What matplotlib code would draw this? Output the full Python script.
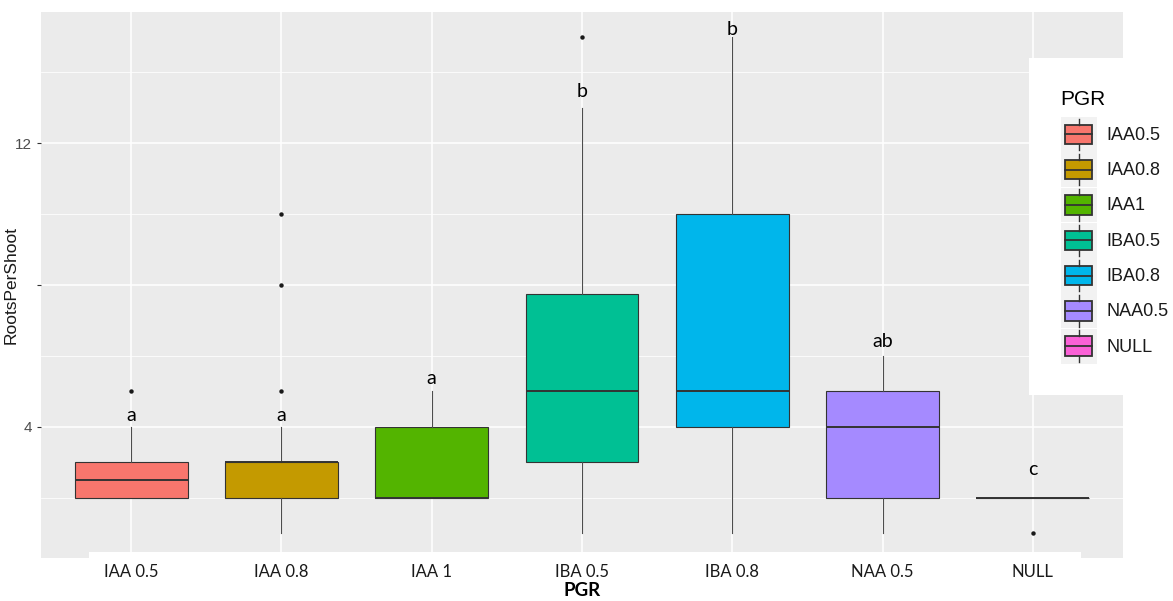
import matplotlib
matplotlib.use("Agg")
from matplotlib import pyplot as plt
from matplotlib.legend_handler import HandlerBase
from matplotlib.patches import Rectangle, Patch
from matplotlib.lines import Line2D

# box statistics
groups = ["IAA 0.5", "IAA 0.8", "IAA 1", "IBA 0.5", "IBA 0.8", "NAA 0.5", "NULL"]
legend_names = ["IAA0.5", "IAA0.8", "IAA1", "IBA0.5", "IBA0.8", "NAA0.5", "NULL"]
q1 = [2, 2, 2, 3, 4, 2, 2]
med = [2.5, 3, 2, 5, 5, 4, 2]
q3 = [3, 3, 4, 7.75, 10, 5, 2]
whislo = [2, 1, 2, 1, 1, 1, 2]
whishi = [4, 4, 5, 13, 15, 6, 2]
fliers = [[5], [5, 8, 10], [], [15], [], [], [1]]
letters = ["a", "a", "a", "b", "b", "ab", "c"]
letter_y = [4.15, 4.15, 5.2, 13.3, 15.05, 6.25, 2.65]

colors = ["#F8766D", "#C49A00", "#53B400", "#00C094", "#00B6EB", "#A58AFF", "#FB61D7"]


class BoxKey(HandlerBase):
    # draws a tiny ggplot style boxplot as legend key
    def create_artists(self, legend, orig_handle, xdescent, ydescent,
                       width, height, fontsize, trans):
        x0, y0 = -xdescent, -ydescent
        bg = Rectangle((x0, y0), width, height, facecolor="#F2F2F2",
                       edgecolor="none", transform=trans)
        box = Rectangle((x0 + 0.12 * width, y0 + 0.22 * height),
                        0.76 * width, 0.56 * height,
                        facecolor=orig_handle.get_facecolor(),
                        edgecolor="#333333", linewidth=1.3, transform=trans)
        xm = x0 + width / 2
        mid = Line2D([x0 + 0.12 * width, x0 + 0.88 * width],
                     [y0 + height / 2] * 2, color="#333333", lw=1.3,
                     transform=trans)
        top = Line2D([xm, xm], [y0 + 0.78 * height, y0 + 0.95 * height],
                     color="#333333", lw=1.0, transform=trans)
        bot = Line2D([xm, xm], [y0 + 0.05 * height, y0 + 0.22 * height],
                     color="#333333", lw=1.0, transform=trans)
        return [bg, box, mid, top, bot]


fig = plt.figure(figsize=(11.73, 6.01), dpi=100)
W, H = 1173, 601
ax = fig.add_axes([41 / W, 1 - 558 / H, (1123 - 41) / W, (558 - 12) / H])
ax.set_facecolor("#EBEBEB")
ax.set_axisbelow(True)

stats = []
for i in range(len(groups)):
    stats.append(dict(med=med[i], q1=q1[i], q3=q3[i], whislo=whislo[i],
                      whishi=whishi[i], fliers=fliers[i], label=groups[i]))

pos = list(range(1, len(groups) + 1))
bp = ax.bxp(stats, positions=pos, widths=0.75, patch_artist=True,
            showcaps=False, manage_ticks=False,
            boxprops=dict(edgecolor="#333333", linewidth=0.8),
            medianprops=dict(color="#333333", linewidth=1.4),
            whiskerprops=dict(color="#4D4D4D", linewidth=0.8),
            flierprops=dict(marker="o", markersize=3.2,
                            markerfacecolor="#1A1A1A",
                            markeredgecolor="none"))
for patch, c in zip(bp["boxes"], colors):
    patch.set_facecolor(c)

for x, t, y in zip(pos, letters, letter_y):
    ax.text(x, y, t, ha="center", va="baseline", fontsize=14,
            family="Lato", color="black")

ax.set_xlim(0.4, 7.6)
ax.set_ylim(0.3, 15.7)
ax.set_xticks(pos)
ax.set_xticklabels(groups, family="Lato", fontsize=12, color="#1A1A1A")
ax.set_yticks([4, 8, 12])
ax.set_yticklabels(["4", "", "12"], fontsize=11, color="#4D4D4D",
                   family="Liberation Sans")
ax.set_yticks([2, 6, 10, 14], minor=True)
ax.tick_params(axis="x", length=0, pad=4)
ax.tick_params(axis="y", length=3, color="#333333", pad=3.5)
ax.tick_params(axis="y", which="minor", length=0)
ax.grid(True, which="major", color="white", linewidth=1.1)
ax.grid(True, which="minor", axis="y", color="white", linewidth=0.55)
for s in ax.spines.values():
    s.set_visible(False)

ax.set_xlabel("PGR", family="Lato", fontweight="bold", fontsize=13.5,
              labelpad=2)
ax.set_ylabel("RootsPerShoot", family="Liberation Sans", fontsize=12.5,
              color="#1A1A1A")
ax.yaxis.set_label_coords((19 - 41) / 1082, 0.5)

# white strip behind the category labels
strip = Rectangle((89 / W, 0), (1081 - 89) / W, 1 - 552 / H,
                  transform=fig.transFigure, facecolor="white",
                  edgecolor="none", zorder=0.3, clip_on=False)
ax.add_artist(strip)

handles = [Patch(facecolor=c) for c in colors]
leg = fig.legend(handles, legend_names, title="PGR",
                 handler_map={Patch: BoxKey()},
                 loc="upper left", bbox_to_anchor=(1029 / W, 1 - 58 / H),
                 borderaxespad=0, frameon=True, fancybox=False,
                 facecolor="white", edgecolor="none", framealpha=1,
                 prop=dict(family="Liberation Sans", size=13),
                 title_fontproperties=dict(family="Liberation Sans", size=15),
                 handlelength=2.0, handleheight=2.6, labelspacing=0.02,
                 handletextpad=0.55, borderpad=1.75, alignment="left")
# a bit more room between the legend title and the keys
leg._legend_box.sep = 6
for t in leg.get_texts():
    t.set_color("#1A1A1A")

fig.savefig("out.png", dpi=100)
